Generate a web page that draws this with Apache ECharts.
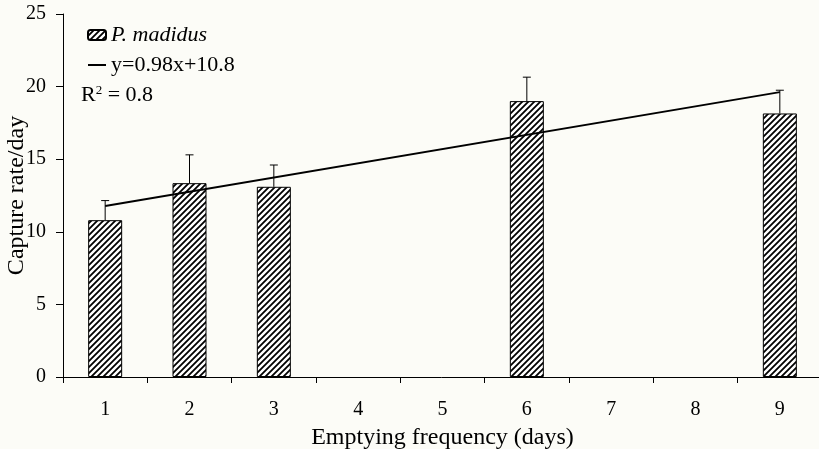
<!DOCTYPE html>
<html><head><meta charset="utf-8">
<script src="https://cdn.jsdelivr.net/npm/echarts@6/dist/echarts.min.js"></script>
<style>html,body{margin:0;padding:0;background:#fcfcf7;} #c{width:819px;height:449px;}</style>
</head><body><div id="c"></div>
<script>
// Data
const categories = ['1', '2', '3', '4', '5', '6', '7', '8', '9'];
const captureRate = [10.8, 13.35, 13.1, null, null, 19.0, null, null, 18.15];
const errorTop = [12.15, 15.3, 14.6, null, null, 20.65, null, null, 19.75];
const trendCategories = ['1', '9'];
const trendValues = [11.78, 19.62];
const yMin = 0, yMax = 25, yStep = 5;
const seriesName = 'P. madidus';
const trendName = 'y=0.98x+10.8';

// hatch pattern
function makeHatch() {
  const s = 6;
  const cv = document.createElement('canvas');
  cv.width = s; cv.height = s;
  const ctx = cv.getContext('2d');
  ctx.fillStyle = '#ffffff';
  ctx.fillRect(0, 0, s, s);
  ctx.strokeStyle = '#000';
  ctx.lineWidth = 1.8;
  ctx.beginPath();
  ctx.moveTo(-1, s + 1); ctx.lineTo(s + 1, -1);
  ctx.moveTo(-1, 1); ctx.lineTo(1, -1);
  ctx.moveTo(s - 1, s + 1); ctx.lineTo(s + 1, s - 1);
  ctx.stroke();
  return cv;
}
const hatch = { image: makeHatch(), repeat: 'repeat' };

const errData = [];
categories.forEach((c, i) => {
  if (captureRate[i] != null) errData.push([i, captureRate[i], errorTop[i]]);
});
const trendData = trendCategories.map((c, i) => [c, trendValues[i]]);

const font = 'Liberation Serif, Times New Roman, serif';
const chart = echarts.init(document.getElementById('c'), null, { renderer: 'canvas' });
chart.setOption({
  backgroundColor: '#fcfcf7',
  animation: false,
  grid: { left: 63, top: 14, width: 759, height: 363, outerBoundsMode: 'none', containLabel: false },
  legend: {
    orient: 'vertical', left: 82, top: 19, itemGap: 8,
    itemWidth: 18, itemHeight: 10,
    textStyle: { fontFamily: font, fontSize: 22, color: '#000' },
    data: [
      { name: seriesName, textStyle: { fontStyle: 'italic' } },
      { name: trendName, icon: 'path://M0,0H12V1.3H0Z', itemStyle: { color: '#000' } }
    ]
  },
  graphic: [{
    type: 'text', left: 81, top: 84,
    style: {
      text: '{a|R}{s|2}{a| = 0.8}',
      rich: {
        a: { fontFamily: font, fontSize: 22, fill: '#000' },
        s: { fontFamily: font, fontSize: 13, fill: '#000', verticalAlign: 'top', padding: [0, 0, 9, 0] }
      }
    }
  }],
  xAxis: {
    type: 'category', data: categories, boundaryGap: true,
    name: 'Emptying frequency (days)', nameLocation: 'middle', nameGap: 49, nameMoveOverlap: false,
    nameTextStyle: { fontFamily: font, fontSize: 24, color: '#000' },
    axisLine: { lineStyle: { color: '#000', width: 1 } },
    axisTick: { show: true, length: 6, lineStyle: { color: '#000' } },
    axisLabel: { fontFamily: font, fontSize: 20, color: '#000', margin: 23 },
    splitLine: { show: false }
  },
  yAxis: {
    type: 'value', min: yMin, max: yMax, interval: yStep,
    name: 'Capture rate/day', nameLocation: 'middle', nameGap: 34, nameMoveOverlap: false,
    nameTextStyle: { fontFamily: font, fontSize: 24, color: '#000' },
    axisLine: { show: true, lineStyle: { color: '#000', width: 1 } },
    axisTick: { show: true, length: 7, lineStyle: { color: '#000' } },
    axisLabel: { fontFamily: font, fontSize: 20, color: '#000', margin: 17 },
    splitLine: { show: false }
  },
  series: [
    {
      name: seriesName, type: 'bar', data: captureRate, barWidth: 34,
      itemStyle: { color: hatch, borderColor: '#000', borderWidth: 1 },
      z: 2
    },
    {
      name: 'err', type: 'custom', data: errData, z: 3,
      renderItem: function (params, api) {
        const x = api.value(0), lo = api.value(1), hi = api.value(2);
        const p0 = api.coord([x, lo]);
        const p1 = api.coord([x, hi]);
        return {
          type: 'group', children: [
            { type: 'line', shape: { x1: p0[0], y1: p0[1], x2: p1[0], y2: p1[1] }, style: { stroke: '#000', lineWidth: 1 } },
            { type: 'line', shape: { x1: p1[0] - 4, y1: p1[1], x2: p1[0] + 4, y2: p1[1] }, style: { stroke: '#000', lineWidth: 1 } }
          ]
        };
      }
    },
    {
      name: trendName, type: 'line', data: trendData, symbol: 'none',
      lineStyle: { color: '#000', width: 2 }, itemStyle: { color: '#000' }, z: 4
    }
  ]
});
</script></body></html>
